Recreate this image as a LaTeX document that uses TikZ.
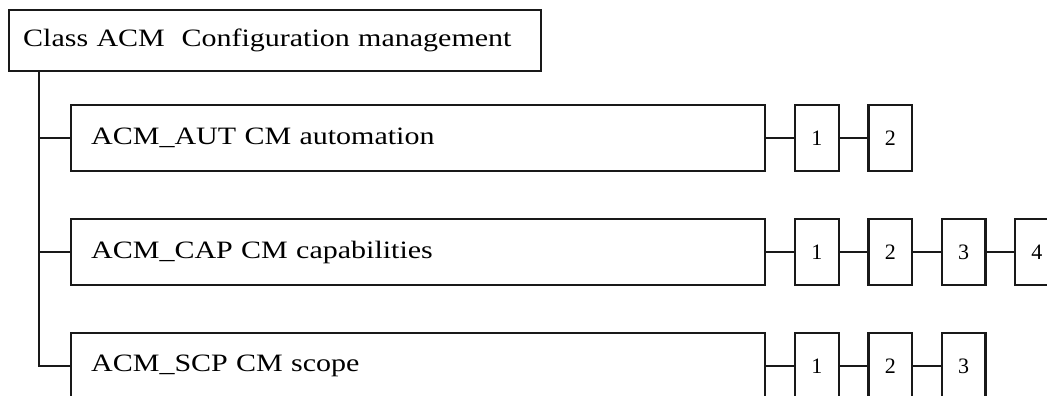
\documentclass[tikz,border=0pt]{standalone}
\usepackage{fontspec}
\setmainfont{Liberation Serif}[FakeStretch=1.2]
\newfontfamily\levelfont{Liberation Serif}
\begin{document}
\begin{tikzpicture}[x=1pt, y=-1pt, line width=2.4pt, draw=black!90,
    classbox/.style={draw, anchor=north west, minimum height=61pt, text width=504pt,
        inner xsep=14pt, align=left, font=\fontsize{25}{28}\selectfont},
    famybox/.style={draw, anchor=north west, minimum height=66pt, text width=654pt,
        inner xsep=20pt, align=left, font=\fontsize{25}{28}\selectfont},
    levelbox/.style={draw, anchor=north west, minimum height=66pt, minimum width=43.5pt,
        inner sep=0pt, font=\levelfont\fontsize{22}{24}\selectfont}]
    \clip (0,0) rectangle (1047,396);
    % Class box
    \node[classbox] (acm) at (8,9) {Class ACM~ Configuration management};

    % Families
    \node[famybox] (aut) at (70,104) {ACM\_AUT CM automation};
    \node[famybox] (cap) at (70,218) {ACM\_CAP CM capabilities};
    \node[famybox] (scp) at (70,332) {ACM\_SCP CM scope};

    % Levels of each family
    \foreach \i in {1,2} {
        \node[levelbox] (aut\i) at ({794+73.3*(\i-1)},104) {\i};
    }
    \foreach \i in {1,2,3,4} {
        \node[levelbox] (cap\i) at ({794+73.3*(\i-1)},218) {\i};
    }
    \foreach \i in {1,2,3} {
        \node[levelbox] (scp\i) at ({794+73.3*(\i-1)},332) {\i};
    }

    % Tree lines
    \draw (acm.south west) ++(31,0) coordinate (trunk) |- (aut.west);
    \draw (trunk) |- (cap.west);
    \draw (trunk) |- (scp.west);

    % Level chains
    \draw (aut.east) -- (aut1.west);
    \draw (aut1.east) -- (aut2.west);
    \draw (cap.east) -- (cap1.west);
    \draw (cap1.east) -- (cap2.west);
    \draw (cap2.east) -- (cap3.west);
    \draw (cap3.east) -- (cap4.west);
    \draw (scp.east) -- (scp1.west);
    \draw (scp1.east) -- (scp2.west);
    \draw (scp2.east) -- (scp3.west);
\end{tikzpicture}
\end{document}
